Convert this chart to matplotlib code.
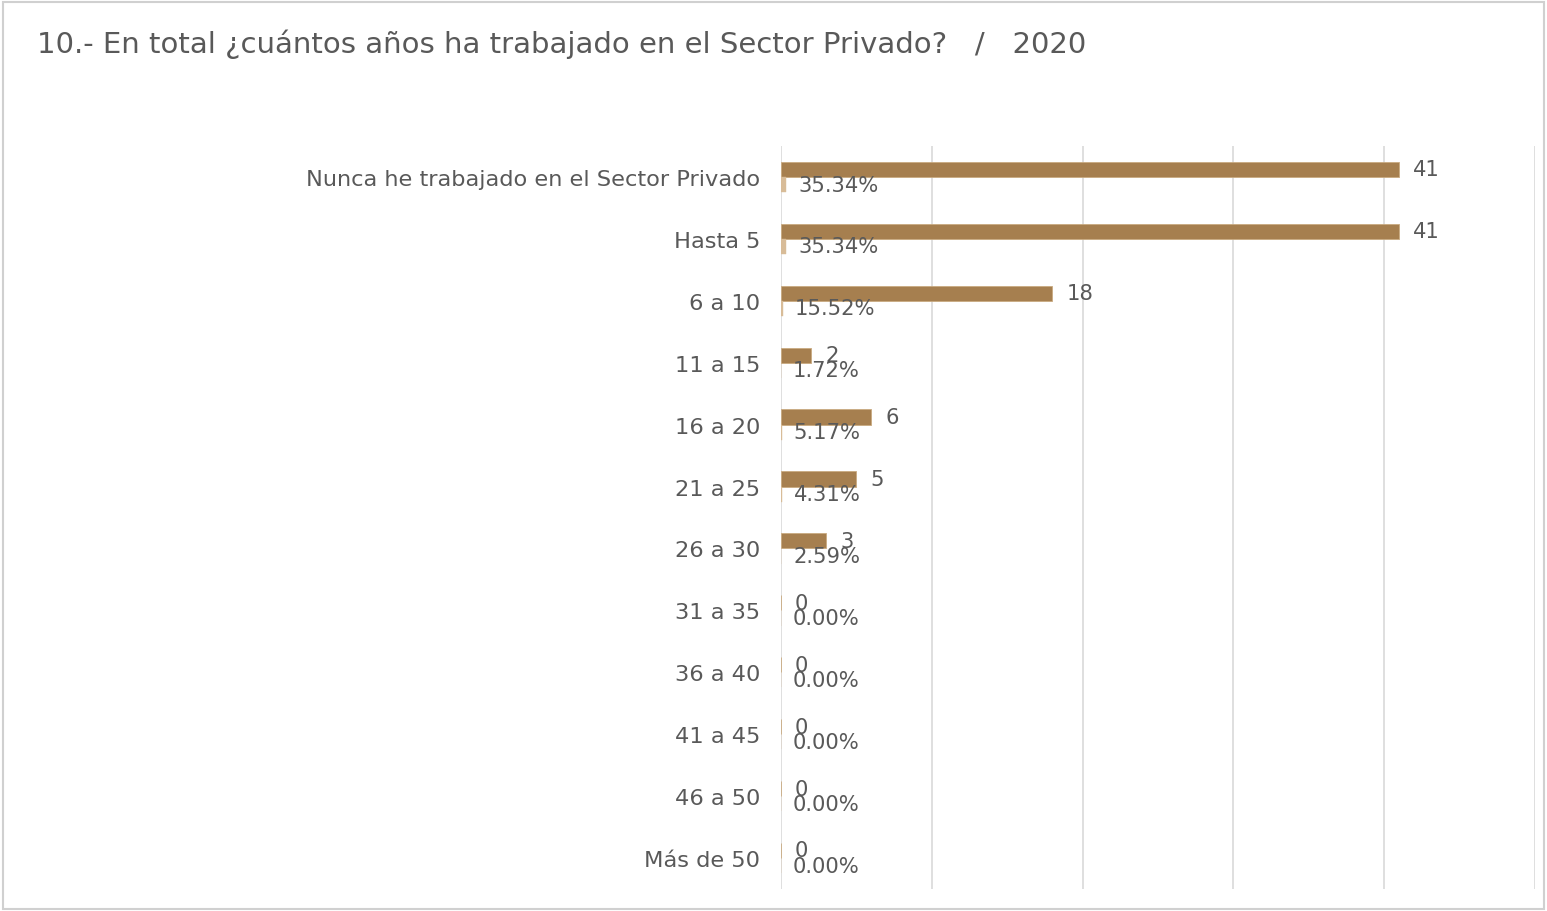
import matplotlib
matplotlib.use("Agg")
import matplotlib.pyplot as plt
from matplotlib.patches import Rectangle
import numpy as np

categories = ["Nunca he trabajado en el Sector Privado", "Hasta 5", "6 a 10", "11 a 15",
              "16 a 20", "21 a 25", "26 a 30", "31 a 35", "36 a 40", "41 a 45",
              "46 a 50", "Más de 50"]
counts = [41, 41, 18, 2, 6, 5, 3, 0, 0, 0, 0, 0]
percents = [35.34, 35.34, 15.52, 1.72, 5.17, 4.31, 2.59, 0.00, 0.00, 0.00, 0.00, 0.00]
title = "10.- En total ¿cuántos años ha trabajado en el Sector Privado?   /   2020"

FONT = ["DejaVu Sans"]
plt.rcParams['font.family'] = FONT
TXT = "#595959"
C_COUNT = "#A67F4F"
C_PCT = "#D8BC98"

fig = plt.figure(figsize=(15.47, 9.12), dpi=100)
fig.patches.append(Rectangle((3/1547, 2/912), 1541/1547, 907/912, transform=fig.transFigure,
                             fill=False, edgecolor="#d0d0d0", linewidth=1.5))
ax = fig.add_axes([781/1547, 1 - 890/912, 754/1547, 743/912])

y = np.arange(len(categories))
h = 0.245
pct_frac = [p / 100 for p in percents]
ax.barh(y - h/2, counts, height=h, color=C_COUNT, edgecolor="#c9aa80", linewidth=0.6, zorder=3)
ax.barh(y + h/2, pct_frac, height=h, color=C_PCT, edgecolor=C_PCT, linewidth=0.3, zorder=3)

for yi, c, p, pf in zip(y, counts, percents, pct_frac):
    ax.annotate(f"{c}", (c, yi - h/2), xytext=(10, 0), textcoords="offset points",
                va="center", ha="left", fontsize=15.2, color=TXT)
    ax.annotate(f"{p:.2f}%", (pf, yi + h/2), xytext=(8.5, 0), textcoords="offset points",
                va="center", ha="left", fontsize=15.2, color=TXT)

ax.set_xlim(0, 50)
ax.set_ylim(len(categories) - 0.5, -0.5)
ax.set_xticks(np.arange(0, 51, 10))
ax.set_xticklabels([])
ax.tick_params(axis="x", length=0)
ax.set_yticks(y)
ax.set_yticklabels(categories, fontsize=16.2, color=TXT)
ax.tick_params(axis="y", length=0, pad=15)
ax.grid(axis="x", color="#d9d9d9", linewidth=1.2, zorder=0)
ax.set_axisbelow(True)
for s in ax.spines.values():
    s.set_visible(False)

fig.text(37/1547, 1 - 44/912, title, fontsize=21, color=TXT, ha="left", va="center")

fig.savefig("out.png", dpi=100)
